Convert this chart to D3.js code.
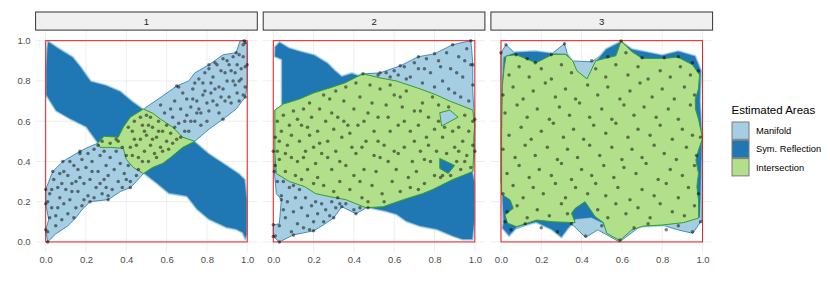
<!DOCTYPE html>
<html>
<head>
<meta charset="utf-8">
<script src="https://cdn.jsdelivr.net/npm/d3@7"></script>
<style>
body { margin: 0; background: #fff; }
text { font-family: "Liberation Sans", Arial, sans-serif; }
</style>
</head>
<body>
<script>
// ---- data ----
const panels = ["1", "2", "3"];
const ticks = [0, 0.2, 0.4, 0.6, 0.8, 1.0];
const areaNames = ["Manifold", "Sym. Reflection", "Intersection"];
const areaFills = ["#a6cee3", "#1f78b4", "#b2df8a"];

// panel 1
const manifold1 = [[[0.01,0.0],[0.0,0.06],[0.015,0.11],[0.0,0.19],[0.0,0.26],[0.035,0.35],[0.085,0.40],[0.17,0.45],[0.21,0.47],[0.257,0.49],[0.29,0.525],[0.36,0.52],[0.385,0.57],[0.42,0.62],[0.485,0.66],[0.58,0.725],[0.65,0.775],[0.71,0.80],[0.74,0.84],[0.81,0.88],[0.88,0.93],[0.945,0.94],[0.965,1.0],[0.985,1.0],[1.0,0.98],[1.0,0.88],[1.0,0.78],[0.99,0.72],[0.945,0.66],[0.88,0.61],[0.81,0.56],[0.74,0.50],[0.68,0.47],[0.62,0.42],[0.58,0.39],[0.53,0.37],[0.485,0.34],[0.45,0.30],[0.42,0.27],[0.37,0.25],[0.31,0.21],[0.22,0.20],[0.18,0.16],[0.15,0.12],[0.11,0.08],[0.05,0.04]]];
const reflection1 = [[[0.01,1.0],[0.07,0.96],[0.135,0.92],[0.175,0.87],[0.225,0.80],[0.30,0.78],[0.37,0.75],[0.43,0.70],[0.485,0.66],[0.53,0.64],[0.57,0.61],[0.63,0.57],[0.68,0.52],[0.74,0.50],[0.81,0.44],[0.90,0.38],[0.96,0.34],[0.99,0.31],[1.0,0.21],[1.0,0.035],[0.99,0.01],[0.975,0.045],[0.945,0.06],[0.895,0.07],[0.81,0.11],[0.75,0.16],[0.70,0.225],[0.61,0.24],[0.55,0.29],[0.485,0.34],[0.435,0.37],[0.40,0.41],[0.385,0.465],[0.32,0.47],[0.27,0.47],[0.257,0.49],[0.20,0.57],[0.12,0.61],[0.05,0.65],[0.0,0.73],[0.0,0.86],[0.005,0.96]]];
const intersection1 = [[[0.257,0.49],[0.29,0.525],[0.36,0.52],[0.385,0.57],[0.42,0.62],[0.485,0.66],[0.53,0.64],[0.57,0.61],[0.63,0.57],[0.68,0.52],[0.74,0.50],[0.68,0.47],[0.62,0.42],[0.58,0.39],[0.53,0.37],[0.485,0.34],[0.435,0.37],[0.40,0.41],[0.385,0.465],[0.32,0.47],[0.27,0.47]]];
const points1 = [
  [0.01,0.0],[0.0,0.06],[0.0,0.19],[0.0,0.26],[0.035,0.35],[0.085,0.4],[0.17,0.45],[0.22,0.2],[0.31,0.21],[0.42,0.27],[0.65,0.775],[0.81,0.88],[0.945,0.94],[0.985,1.0],[1.0,0.88],[0.99,0.72],[0.88,0.61],
  [0.01,0.05],[0.02,0.12],[0.01,0.2],[0.03,0.26],[0.04,0.31],[0.05,0.08],[0.06,0.17],[0.07,0.22],[0.08,0.29],[0.09,0.35],[0.03,0.17],[0.05,0.13],[0.08,0.11],[0.09,0.19],[0.02,0.24],[0.06,0.27],[0.1,0.26],[0.07,0.34],
  [0.11,0.14],[0.12,0.21],[0.13,0.29],[0.11,0.33],[0.14,0.38],[0.15,0.17],[0.16,0.25],[0.17,0.32],[0.18,0.41],[0.19,0.21],[0.12,0.4],[0.14,0.12],[0.16,0.36],[0.19,0.29],[0.13,0.25],[0.18,0.18],[0.15,0.3],[0.2,0.37],[0.17,0.44],
  [0.21,0.23],[0.22,0.31],[0.23,0.4],[0.24,0.46],[0.25,0.27],[0.26,0.35],[0.27,0.43],[0.28,0.24],[0.29,0.31],[0.3,0.38],[0.24,0.22],[0.21,0.44],[0.27,0.29],[0.29,0.45],[0.23,0.35],[0.3,0.27],[0.26,0.48],[0.28,0.5],
  [0.31,0.33],[0.32,0.42],[0.33,0.26],[0.34,0.36],[0.35,0.45],[0.36,0.3],[0.37,0.39],[0.38,0.27],[0.39,0.34],[0.4,0.43],[0.32,0.49],[0.35,0.51],[0.38,0.47],[0.31,0.23],[0.36,0.5],[0.4,0.31],
  [0.41,0.38],[0.42,0.47],[0.43,0.55],[0.44,0.6],[0.45,0.33],[0.46,0.42],[0.47,0.51],[0.48,0.58],[0.49,0.45],[0.5,0.63],[0.42,0.3],[0.44,0.51],[0.46,0.36],[0.48,0.4],[0.5,0.53],[0.43,0.43],[0.47,0.62],[0.41,0.57],[0.45,0.48],[0.49,0.55],
  [0.51,0.4],[0.52,0.48],[0.53,0.57],[0.54,0.44],[0.55,0.52],[0.56,0.6],[0.57,0.47],[0.58,0.55],[0.59,0.64],[0.6,0.5],[0.52,0.62],[0.55,0.42],[0.57,0.68],[0.6,0.58],[0.53,0.51],[0.58,0.45],[0.51,0.58],[0.56,0.55],
  [0.61,0.46],[0.62,0.54],[0.63,0.62],[0.64,0.7],[0.65,0.51],[0.66,0.59],[0.67,0.66],[0.68,0.74],[0.69,0.55],[0.7,0.63],[0.62,0.66],[0.64,0.57],[0.67,0.52],[0.7,0.71],[0.63,0.49],[0.66,0.77],[0.69,0.6],
  [0.71,0.55],[0.72,0.67],[0.73,0.76],[0.74,0.6],[0.75,0.7],[0.76,0.81],[0.77,0.64],[0.78,0.73],[0.79,0.84],[0.8,0.6],[0.72,0.6],[0.74,0.79],[0.76,0.66],[0.78,0.79],[0.8,0.69],[0.73,0.71],[0.77,0.58],[0.79,0.75],[0.75,0.64],
  [0.81,0.65],[0.82,0.74],[0.83,0.82],[0.84,0.89],[0.85,0.68],[0.86,0.77],[0.87,0.85],[0.88,0.91],[0.89,0.7],[0.9,0.8],[0.81,0.86],[0.83,0.7],[0.85,0.88],[0.86,0.64],[0.88,0.76],[0.9,0.9],[0.82,0.79],[0.84,0.76],[0.87,0.72],[0.89,0.84],
  [0.91,0.72],[0.92,0.85],[0.93,0.92],[0.94,0.78],[0.95,0.88],[0.96,0.7],[0.97,0.81],[0.98,0.92],[0.99,0.77],[0.99,0.99],[0.92,0.69],[0.93,0.8],[0.95,0.74],[0.96,0.93],[0.97,0.86],[0.98,0.98],[0.99,0.87],[0.91,0.88],[0.94,0.84],[0.96,0.8],[0.98,0.73]
];

// panel 2
const hole2a = [[0.826,0.642],[0.876,0.655],[0.917,0.62],[0.835,0.576]];
const hole2b = [[0.826,0.415],[0.90,0.38],[0.868,0.34],[0.826,0.365]];
const manifold2 = [[[0.03,0.0],[0.10,0.035],[0.20,0.055],[0.25,0.085],[0.30,0.12],[0.34,0.175],[0.41,0.14],[0.445,0.16],[0.46,0.17],[0.545,0.175],[0.645,0.21],[0.74,0.24],[0.79,0.26],[0.89,0.31],[0.94,0.33],[0.99,0.35],[1.0,0.45],[1.0,0.61],[0.995,0.66],[0.99,0.75],[0.99,0.88],[0.985,0.95],[0.98,1.0],[0.89,0.98],[0.80,0.935],[0.72,0.92],[0.63,0.875],[0.53,0.84],[0.445,0.835],[0.355,0.79],[0.28,0.765],[0.20,0.74],[0.13,0.71],[0.05,0.685],[0.008,0.655],[0.008,0.44],[0.005,0.35],[0.015,0.24],[0.04,0.21],[0.03,0.09],[0.0,0.085],[0.0,0.027]], hole2b];
const reflection2 = [[[0.03,0.995],[0.08,0.965],[0.13,0.95],[0.205,0.93],[0.27,0.89],[0.31,0.85],[0.34,0.825],[0.39,0.84],[0.42,0.83],[0.445,0.835],[0.53,0.815],[0.61,0.80],[0.73,0.76],[0.81,0.73],[0.875,0.70],[0.94,0.675],[0.99,0.655],[1.0,0.58],[0.995,0.45],[0.99,0.35],[1.0,0.30],[1.0,0.10],[0.99,0.01],[0.94,0.01],[0.89,0.027],[0.81,0.06],[0.73,0.076],[0.66,0.10],[0.61,0.135],[0.56,0.15],[0.49,0.165],[0.46,0.17],[0.41,0.19],[0.36,0.21],[0.28,0.225],[0.21,0.24],[0.155,0.275],[0.08,0.30],[0.015,0.34],[0.008,0.44],[0.008,0.655],[0.04,0.67],[0.04,0.905],[0.005,0.92],[0.007,0.97]], hole2a];
const intersection2 = [[[0.008,0.655],[0.05,0.685],[0.13,0.71],[0.20,0.74],[0.28,0.765],[0.355,0.79],[0.445,0.835],[0.53,0.815],[0.61,0.80],[0.73,0.76],[0.81,0.73],[0.875,0.70],[0.94,0.675],[0.99,0.655],[1.0,0.58],[0.995,0.525],[0.995,0.45],[0.99,0.35],[0.94,0.33],[0.89,0.31],[0.79,0.26],[0.74,0.24],[0.645,0.21],[0.545,0.175],[0.46,0.17],[0.41,0.19],[0.36,0.21],[0.28,0.225],[0.21,0.24],[0.155,0.275],[0.08,0.30],[0.015,0.34],[0.008,0.44]], hole2a, hole2b];
const points2 = [
  [0.03,0.0],[0.0,0.027],[0.0,0.085],[0.04,0.21],[0.005,0.35],[0.0,0.45],[0.1,0.035],[0.2,0.055],[0.3,0.12],[0.34,0.175],[0.41,0.14],[0.47,0.17],[0.8,0.935],[0.89,0.98],[0.98,1.0],[0.99,0.88],[1.0,0.61],[1.0,0.45],[0.445,0.835],
  [0.01,0.38],[0.02,0.45],[0.01,0.52],[0.02,0.6],[0.03,0.41],[0.04,0.55],[0.05,0.63],[0.06,0.35],[0.07,0.48],[0.08,0.58],[0.09,0.42],[0.1,0.65],[0.03,0.5],[0.06,0.44],[0.09,0.53],
  [0.11,0.33],[0.12,0.4],[0.13,0.5],[0.14,0.58],[0.15,0.66],[0.16,0.45],[0.17,0.36],[0.18,0.53],[0.19,0.62],[0.2,0.29],[0.12,0.61],[0.15,0.42],[0.18,0.69],[0.14,0.31],[0.2,0.47],[0.17,0.57],
  [0.21,0.39],[0.22,0.55],[0.23,0.66],[0.24,0.44],[0.25,0.28],[0.26,0.6],[0.27,0.5],[0.28,0.71],[0.29,0.36],[0.3,0.56],[0.22,0.32],[0.25,0.73],[0.27,0.42],[0.23,0.49],[0.29,0.64],[0.3,0.25],
  [0.31,0.45],[0.32,0.62],[0.33,0.3],[0.34,0.52],[0.35,0.7],[0.36,0.38],[0.37,0.58],[0.38,0.26],[0.39,0.47],[0.4,0.66],[0.31,0.75],[0.33,0.4],[0.36,0.77],[0.38,0.54],[0.4,0.33],[0.35,0.6],[0.32,0.22],
  [0.41,0.44],[0.42,0.58],[0.43,0.72],[0.44,0.22],[0.45,0.36],[0.46,0.5],[0.47,0.64],[0.48,0.78],[0.49,0.28],[0.5,0.43],[0.41,0.79],[0.43,0.3],[0.45,0.6],[0.47,0.2],[0.49,0.69],[0.5,0.55],[0.44,0.47],
  [0.51,0.35],[0.52,0.62],[0.53,0.76],[0.54,0.24],[0.55,0.48],[0.56,0.68],[0.57,0.4],[0.58,0.55],[0.59,0.3],[0.6,0.73],[0.52,0.5],[0.55,0.2],[0.57,0.62],[0.6,0.45],[0.53,0.42],[0.58,0.78],
  [0.61,0.36],[0.62,0.58],[0.63,0.25],[0.64,0.67],[0.65,0.47],[0.66,0.75],[0.67,0.32],[0.68,0.55],[0.69,0.4],[0.7,0.65],[0.62,0.44],[0.65,0.6],[0.68,0.27],[0.7,0.5],[0.63,0.72],
  [0.71,0.35],[0.72,0.58],[0.73,0.45],[0.74,0.69],[0.75,0.29],[0.76,0.52],[0.77,0.62],[0.78,0.4],[0.79,0.72],[0.8,0.33],[0.72,0.26],[0.75,0.41],[0.77,0.48],[0.8,0.56],[0.73,0.65],
  [0.81,0.45],[0.82,0.68],[0.83,0.32],[0.84,0.52],[0.85,0.57],[0.86,0.44],[0.87,0.67],[0.88,0.33],[0.89,0.55],[0.9,0.47],[0.82,0.6],[0.84,0.33],
  [0.91,0.4],[0.92,0.57],[0.93,0.36],[0.94,0.5],[0.95,0.63],[0.96,0.43],[0.97,0.55],[0.98,0.37],[0.99,0.48],[0.99,0.6],[0.92,0.45],[0.95,0.4],
  [0.52,0.83],[0.56,0.84],[0.6,0.85],[0.62,0.83],[0.65,0.87],[0.68,0.82],[0.7,0.89],[0.72,0.86],[0.74,0.79],[0.76,0.91],[0.78,0.84],[0.8,0.77],[0.82,0.9],[0.84,0.8],[0.86,0.94],[0.88,0.86],[0.9,0.74],[0.92,0.92],[0.94,0.82],[0.96,0.96],[0.97,0.7],[0.98,0.88],[0.99,0.78],[0.93,0.72],[0.87,0.76],[0.83,0.87],[0.75,0.86],[0.66,0.81],[0.58,0.82],[0.91,0.84],[0.95,0.9],[0.72,0.92],[0.63,0.875],[0.53,0.84],
  [0.01,0.03],[0.03,0.08],[0.05,0.16],[0.04,0.23],[0.02,0.3],[0.06,0.12],[0.07,0.2],[0.08,0.27],[0.09,0.05],[0.1,0.15],[0.11,0.22],[0.12,0.09],[0.13,0.26],[0.14,0.17],[0.15,0.07],[0.16,0.22],[0.17,0.13],[0.18,0.06],[0.19,0.18],[0.2,0.1],[0.21,0.2],[0.22,0.14],[0.24,0.19],[0.25,0.1],[0.26,0.16],[0.28,0.13],[0.29,0.2],[0.31,0.17],[0.33,0.19],[0.36,0.19],[0.4,0.16],[0.43,0.17],[0.05,0.3],[0.1,0.28]
];

// panel 3
const manifold3 = [[[0.0,0.94],[0.025,0.98],[0.075,0.932],[0.174,0.89],[0.248,0.932],[0.315,0.985],[0.34,0.90],[0.45,0.895],[0.596,0.998],[0.70,0.915],[0.81,0.915],[0.878,0.92],[0.95,0.89],[0.985,0.84],[0.975,0.75],[0.985,0.6],[1.0,0.52],[0.99,0.4],[1.0,0.3],[0.997,0.21],[0.997,0.11],[0.952,0.043],[0.877,0.06],[0.80,0.084],[0.70,0.084],[0.588,0.0],[0.48,0.06],[0.42,0.022],[0.36,0.08],[0.33,0.095],[0.265,0.075],[0.174,0.104],[0.09,0.07],[0.05,0.063],[0.01,0.10],[0.013,0.24],[0.0,0.3],[0.0,0.5],[0.0,0.78]]];
const reflection3 = [[[0.01,0.92],[0.07,0.945],[0.17,0.95],[0.25,0.94],[0.33,0.935],[0.356,0.90],[0.377,0.85],[0.427,0.81],[0.47,0.90],[0.52,0.96],[0.596,0.998],[0.65,0.96],[0.80,0.93],[0.88,0.95],[0.965,0.925],[0.995,0.85],[0.99,0.7],[1.0,0.52],[0.995,0.3],[0.99,0.12],[0.96,0.117],[0.906,0.096],[0.80,0.08],[0.70,0.075],[0.649,0.06],[0.59,0.007],[0.53,0.04],[0.505,0.09],[0.447,0.118],[0.372,0.11],[0.33,0.06],[0.30,0.02],[0.25,0.06],[0.174,0.095],[0.08,0.07],[0.04,0.027],[0.005,0.068],[0.01,0.1],[0.005,0.2],[0.0,0.5],[0.0,0.73]]];
const intersection3 = [[[0.025,0.924],[0.075,0.93],[0.174,0.89],[0.257,0.932],[0.32,0.932],[0.356,0.90],[0.377,0.85],[0.427,0.81],[0.47,0.90],[0.57,0.925],[0.596,0.998],[0.65,0.945],[0.70,0.912],[0.81,0.912],[0.878,0.918],[0.95,0.88],[0.985,0.83],[0.98,0.76],[0.964,0.71],[0.965,0.66],[0.98,0.61],[1.0,0.515],[0.98,0.457],[0.967,0.407],[0.98,0.34],[0.972,0.275],[0.98,0.209],[0.98,0.118],[0.906,0.096],[0.80,0.084],[0.707,0.079],[0.649,0.06],[0.59,0.007],[0.525,0.043],[0.508,0.096],[0.467,0.126],[0.417,0.2],[0.368,0.167],[0.35,0.142],[0.368,0.096],[0.26,0.1],[0.177,0.109],[0.078,0.076],[0.033,0.093],[0.02,0.134],[0.061,0.167],[0.045,0.209],[0.003,0.237],[0.003,0.54],[0.007,0.772],[0.015,0.86]]];
const points3 = [
  [0.05,0.06],[0.12,0.09],[0.2,0.07],[0.28,0.05],[0.42,0.03],[0.5,0.08],[0.59,0.01],[0.66,0.07],[0.73,0.09],[0.82,0.06],[0.88,0.08],[0.95,0.05],[0.99,0.1],[0.35,0.09],[0.02,0.1],
  [0.03,0.15],[0.08,0.18],[0.13,0.12],[0.18,0.16],[0.24,0.13],[0.3,0.19],[0.33,0.14],[0.48,0.16],[0.53,0.12],[0.57,0.19],[0.62,0.14],[0.68,0.17],[0.74,0.12],[0.79,0.19],[0.85,0.15],[0.91,0.13],[0.96,0.18],
  [0.01,0.24],[0.06,0.28],[0.11,0.22],[0.16,0.27],[0.21,0.24],[0.27,0.29],[0.32,0.22],[0.37,0.27],[0.43,0.24],[0.47,0.29],[0.52,0.23],[0.58,0.27],[0.64,0.21],[0.7,0.26],[0.76,0.23],[0.82,0.29],[0.88,0.22],[0.93,0.27],[0.98,0.24],
  [0.03,0.34],[0.09,0.38],[0.14,0.32],[0.19,0.36],[0.25,0.33],[0.3,0.39],[0.35,0.31],[0.4,0.36],[0.45,0.33],[0.51,0.38],[0.56,0.32],[0.61,0.37],[0.67,0.34],[0.72,0.39],[0.78,0.31],[0.84,0.36],[0.9,0.33],[0.96,0.38],
  [0.01,0.46],[0.07,0.42],[0.12,0.48],[0.17,0.43],[0.23,0.47],[0.28,0.41],[0.33,0.46],[0.38,0.42],[0.44,0.48],[0.49,0.43],[0.55,0.47],[0.6,0.41],[0.65,0.46],[0.7,0.42],[0.76,0.48],[0.81,0.44],[0.87,0.41],[0.92,0.47],[0.97,0.43],
  [0.04,0.53],[0.1,0.57],[0.15,0.51],[0.2,0.55],[0.26,0.59],[0.31,0.52],[0.36,0.56],[0.41,0.51],[0.46,0.58],[0.52,0.54],[0.57,0.59],[0.63,0.52],[0.68,0.56],[0.74,0.53],[0.79,0.58],[0.85,0.51],[0.9,0.56],[0.95,0.53],[0.99,0.52],
  [0.02,0.64],[0.08,0.68],[0.13,0.62],[0.18,0.66],[0.24,0.61],[0.29,0.67],[0.34,0.63],[0.39,0.69],[0.44,0.62],[0.5,0.66],[0.55,0.61],[0.61,0.68],[0.66,0.63],[0.71,0.67],[0.77,0.62],[0.83,0.66],[0.88,0.61],[0.94,0.68],
  [0.01,0.73],[0.06,0.77],[0.11,0.71],[0.16,0.75],[0.22,0.79],[0.27,0.72],[0.32,0.76],[0.37,0.71],[0.43,0.78],[0.48,0.73],[0.53,0.77],[0.59,0.71],[0.64,0.75],[0.69,0.79],[0.75,0.72],[0.8,0.76],[0.86,0.71],[0.91,0.77],[0.96,0.73],
  [0.04,0.83],[0.09,0.87],[0.14,0.82],[0.2,0.86],[0.25,0.81],[0.3,0.88],[0.35,0.84],[0.47,0.86],[0.52,0.82],[0.57,0.88],[0.63,0.83],[0.68,0.87],[0.73,0.81],[0.79,0.85],[0.84,0.82],[0.89,0.87],[0.94,0.83],[0.98,0.85],
  [0.0,0.94],[0.025,0.98],[0.075,0.93],[0.17,0.89],[0.25,0.93],[0.315,0.985],[0.45,0.9],[0.596,0.998],[0.7,0.915],[0.81,0.915],[0.88,0.92],[0.95,0.89],[0.62,0.94],[0.53,0.92],[0.13,0.91]
];

const manifolds = [manifold1, manifold2, manifold3];
const reflections = [reflection1, reflection2, reflection3];
const intersections = [intersection1, intersection2, intersection3];
const pointSets = [points1, points2, points3];

// ---- layout ----
const panelX = [35.6, 263.2, 490.9];
const panelW = 221.7, panelTop = 30.6, panelH = 221.4;
const stripTop = 12;

const svg = d3.select("body").append("svg")
    .attr("width", 830)
    .attr("height", 282);

const x = d3.scaleLinear().domain([-0.05, 1.05]).range([0, panelW]);
const y = d3.scaleLinear().domain([-0.05, 1.05]).range([panelH, 0]);

const ring = d3.line()
    .x(d => x(d[0]))
    .y(d => y(d[1]))
    .curve(d3.curveLinearClosed);
const areaPath = rings => rings.map(r => ring(r)).join("");

panels.forEach((name, i) => {
    let g = svg.append("g")
        .attr("transform", "translate(" + panelX[i] + "," + panelTop + ")");

    // grid
    g.selectAll(".gx").data(ticks).enter().append("line")
        .attr("x1", d => x(d)).attr("x2", d => x(d))
        .attr("y1", 0).attr("y2", panelH)
        .attr("stroke", "#ebebeb").attr("stroke-width", 0.9);
    g.selectAll(".gy").data(ticks).enter().append("line")
        .attr("y1", d => y(d)).attr("y2", d => y(d))
        .attr("x1", 0).attr("x2", panelW)
        .attr("stroke", "#ebebeb").attr("stroke-width", 0.9);

    // areas
    g.append("path")
        .attr("d", areaPath(manifolds[i]))
        .attr("fill", areaFills[0])
        .attr("fill-rule", "evenodd")
        .attr("stroke", "#1f78b4")
        .attr("stroke-width", 0.8);
    g.append("path")
        .attr("d", areaPath(reflections[i]))
        .attr("fill", areaFills[1])
        .attr("fill-rule", "evenodd")
        .attr("stroke", "#a6cee3")
        .attr("stroke-opacity", 0.7)
        .attr("stroke-width", 1.6)
        .attr("stroke-linejoin", "round");
    g.append("path")
        .attr("d", areaPath(intersections[i]))
        .attr("fill", areaFills[2])
        .attr("fill-rule", "evenodd")
        .attr("stroke", "#33a02c")
        .attr("stroke-width", 1);

    // unit square
    g.append("rect")
        .attr("x", x(0)).attr("y", y(1))
        .attr("width", x(1) - x(0)).attr("height", y(0) - y(1))
        .attr("fill", "none")
        .attr("stroke", "#ee1c1c")
        .attr("stroke-width", 1);

    // points
    g.selectAll("circle").data(pointSets[i]).enter().append("circle")
        .attr("cx", d => x(d[0]))
        .attr("cy", d => y(d[1]))
        .attr("r", 1.75)
        .attr("fill", "#000")
        .attr("fill-opacity", 0.5);

    // strip
    g.append("rect")
        .attr("x", 0).attr("y", stripTop - panelTop)
        .attr("width", panelW).attr("height", panelTop - stripTop - 0.5)
        .attr("fill", "#f0f0f0")
        .attr("stroke", "#333")
        .attr("stroke-width", 1);
    g.append("text")
        .attr("x", panelW / 2)
        .attr("y", (stripTop - panelTop) / 2)
        .attr("dy", "0.35em")
        .attr("text-anchor", "middle")
        .attr("font-size", "9.5px")
        .attr("fill", "#1a1a1a")
        .text(name);

    // axes
    let xAxis = g.append("g")
        .attr("transform", "translate(0," + panelH + ")")
        .call(d3.axisBottom(x).tickValues(ticks).tickFormat(d3.format(".1f")).tickSize(0).tickPadding(4.5));
    xAxis.select(".domain").remove();
    xAxis.selectAll("text")
        .attr("font-size", "9.5px")
        .attr("fill", "#4d4d4d")
        .attr("font-family", "Liberation Sans, Arial, sans-serif");

    if (i == 0) {
        let yAxis = g.append("g")
            .call(d3.axisLeft(y).tickValues(ticks).tickFormat(d3.format(".1f")).tickSize(0).tickPadding(5));
        yAxis.select(".domain").remove();
        yAxis.selectAll("text")
            .attr("font-size", "9.5px")
            .attr("fill", "#4d4d4d")
            .attr("font-family", "Liberation Sans, Arial, sans-serif");
    }
});

// legend
let legend = svg.append("g").attr("transform", "translate(731.5,0)");
legend.append("text")
    .attr("x", 0).attr("y", 114)
    .attr("font-size", "11.5px")
    .attr("fill", "#000")
    .text("Estimated Areas");
areaNames.forEach((name, i) => {
    legend.append("rect")
        .attr("x", 0.5).attr("y", 122 + i * 18.3)
        .attr("width", 17).attr("height", 17.3)
        .attr("fill", areaFills[i])
        .attr("stroke", "#7a7a7a")
        .attr("stroke-width", 1);
    legend.append("text")
        .attr("x", 24.5).attr("y", 122 + i * 18.3 + 8.7)
        .attr("dy", "0.35em")
        .attr("font-size", "9.3px")
        .attr("fill", "#000")
        .text(name);
});
</script>
</body>
</html>
